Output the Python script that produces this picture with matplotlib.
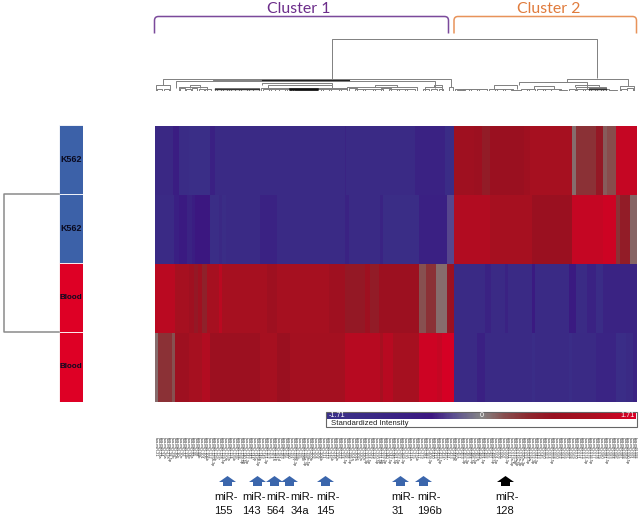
import matplotlib
matplotlib.use("Agg")
import matplotlib.pyplot as plt
import numpy as np
from matplotlib.collections import LineCollection
from matplotlib.colors import LinearSegmentedColormap, Normalize
from matplotlib.path import Path
from matplotlib.patches import PathPatch, Rectangle

W, H = 643, 517
VMIN, VMAX = -1.71, 1.71

sample_names = ["K562", "K562", "Blood", "Blood"]
sample_colors = ["#3c61a8", "#3c61a8", "#de0025", "#de0025"]
sample_font_sizes = [6.5, 6.5, 5.8, 5.8]
cluster_names = ["Cluster 1", "Cluster 2"]

# heat-map rows as (last column of the run, standardized intensity)
row_k562_a = [(18,-1.2),(24,-0.8),(34,-1.4),(55,-1.55),(60,-0.9),(190,-1.25),(191,-1.0),(260,-1.25),(290,-0.95),(299,-1.4),
              (319,1.0),(327,.9),(335,.65),(369,.85),(375,1.0),(417,1.15),(421,.12),(441,.45),(448,.7),(452,.2),(461,.28),(482,1.5)]
row_k562_b = [(19,-1.25),(24,-0.85),(32,-0.7),(37,-1.0),(40,-0.8),(55,-0.6),(64,-1.45),(67,-1.2),(71,-1.45),(105,-1.25),(122,-0.95),
              (190,-1.25),(194,-0.95),(225,-1.3),(228,-1.0),(264,-1.45),(292,-0.9),(299,-0.34),
              (335,1.3),(377,1.15),(417,.85),(448,1.5),(461,1.6),(465,.45),(475,.65),(482,.15)]
row_blood_a = [(20,1.4),(34,1.15),(39,1.0),(43,.7),(47,1.0),(52,.6),(64,1.15),(67,1.4),(112,1.15),(122,.95),(174,1.15),(190,1.0),
               (210,.7),(215,.95),(224,.65),(264,.9),(271,.25),(281,.45),(292,.12),(295,.7),(299,.9),
               (330,-1.3),(336,-0.95),(350,-1.3),(353,-0.95),(377,-1.3),(380,-0.7),(414,-1.3),(421,-0.7),(432,-1.35),(441,-0.95),(448,-1.4),(482,-1.0)]
row_blood_b = [(3,.12),(17,.45),(20,.25),(34,.95),(47,1.15),(55,1.3),(105,.9),(122,1.15),(135,.85),(190,1.1),(225,1.35),(228,1.15),
               (238,1.35),(264,1.15),(282,1.6),(287,1.5),(299,1.68),
               (322,-1.3),(330,-0.9),(377,-1.3),(380,-1.5),(414,-1.3),(417,-1.5),(441,-1.3),(461,-1.05),(471,-1.5),(478,-1.25),(482,-0.95)]
heat_rows = [row_k562_a, row_k562_b, row_blood_a, row_blood_b]

# upper dendrogram merges: left column, right column, height, left child height, right child height
upper_merges = [(177,442,52,11.5,12.5),(8,296,11.5,5.5,4),(21.5,280.5,9.5,2.5,3),(58,107,11,9.5,9.5),(107,194,10.5,9.5,9.5),
                (1,15,5.5,0,0),(107,177,8,6,6),(113,177,6,2.5,2.5),(192,262,3.5,0,0),(220,242,5.5,3.5,3.5),(35,45,5.5,3,3),
                (24,52,3.5,0,0),(60,104,3,0,0),(106,192,2.5,0,0),(135,162,2,0,0),(270,287,3.5,0,0),(279,287,5.5,3.5,3.5),
                (294,298,4,0,0),(300,332,1.5,0,0),(339,362,5.5,2,2),(364,432,8.5,5.5,2),(390,417,8.5,8.5,8.5),
                (412,473,12,8.5,4.5),(379,399,5,2,2),(420,444,6,3.5,3.5),(421,451,3.5,0,0),(434,451,2.5,0,0),(465,479,4.5,0,0)]
small_merges = [(2,7,2),(9,14,1.5),(25,30,2.5),(31,36,1.5),(37,42,3),(44,49,2),(50,56,1.5),(60,66,2.5),(62,72,1.5),(68,76,2),
                (74,84,1.5),(80,92,1.8),(86,98,1.2),(94,104,2),(108,116,1.5),(114,124,2),(120,132,1.5),(130,138,2),(136,146,1.5),
                (140,150,1),(144,156,1.5),(150,162,1),(156,168,1.8),(166,176,1.5),(174,186,2),(184,192,1.5),(194,202,2.5),
                (200,210,1.5),(208,220,2),(218,228,1.5),(226,236,2.5),(234,244,1.5),(242,252,2),(250,260,1.5),(268,274,2),
                (276,282,1.5),(284,288,2),(302,310,1),(308,316,1.5),(314,324,1.2),(322,332,1.8),(334,342,1.5),(340,350,2),
                (348,358,1.5),(356,366,1),(366,374,1.5),(372,380,2),(382,390,1.2),(388,396,1.8),(396,406,1.5),(404,412,1),
                (414,420,2),(422,430,1.5),(428,436,1.2),(434,442,1.5),(440,448,1.8),(446,454,1.5),(454,462,1),(466,472,2),(472,478,2.5)]

# lower-left dendrogram: the two sample pairs joined at one height
side_merge_rows = (1, 3)

# colour scale: stops of intensity and colour
scale_stops = [-1.71, -1.25, -0.8, -0.55, -0.3, 0.0, 0.25, 0.5, 0.8, 1.2, 1.71]
scale_colors = ["#3b3189", "#3a2a85", "#3a1e83", "#3c1680", "#5c5090", "#858585", "#885050", "#8c2a30", "#981020", "#a81020", "#d80025"]

# annotated miRNAs, with the column their arrow points at
callout_top = "miR-"
callout_names = ["155", "143", "564", "34a", "145", "31", "196b", "128"]
callout_arrow_cols = [73, 103, 120, 135, 171, 246, 269, 351]
callout_text_cols = [60, 88, 112, 136, 162, 237, 263, 341]
callout_colors = ["#3b66ac"] * 7 + ["#000000"]

# column labels (too small to read in the reference, names are estimates)
mirna_tokens = ("21 23a 24 26a 27a 28-5p 29b 30a 30c 30e 32 33b 34b 92a 95 98 99b 101 105 106b 122 125a-3p 125b 126* 128 129-5p 130b 133a 134 135b "
 "136* 138 139-5p 140-5p 142-3p 143 144* 146a 146b-5p 148a 149 151-3p 152 154 181a 181b 181d 183 185 187 190 191* 193a-3p 193b 195 196b "
 "199a-3p 199b-5p 200b 202 204 206 208b 211 213 215 216b 218 220a 222 224 296-5p 298 299-5p 301a 302a 302c 320a 320c 323-3p 324-5p 326 329 "
 "330-5p 331-5p 337-5p 339-3p 340 342-5p 346 361-5p 362-5p 365 369-3p 370 372 374a 375 376b 377 379 381 383 409-3p 410 412 422a 423-5p 424* "
 "425* 431 433 449a 450a 451 453 455-3p 483-3p 484 485-5p 486-5p 487b 489 491-5p 493 495 497 499-5p 501-5p 503 505 507 509-3p 511 513a-5p "
 "515-3p 516a-5p 518a-3p 520a-3p 522 524-5p 526a 532-3p 542-3p 543 545 550 552 554 556-5p 558 560 562 564 566 567 568 569 570 571 572 573 "
 "574-3p 575 576-5p 577 578 579 580 581 582-5p 583 584 585 586 587 588 589 590-5p 591 592 593").split()
mirna_labels = ["hsa-miR-" + t for t in mirna_tokens]


def expand(runs):
    cells, start = [], 0
    for end, value in runs:
        cells.extend([value] * (end - start))
        start = end
    return cells


def px_axes(left, top, right, bottom):
    return fig.add_axes([left / W, 1 - bottom / H, (right - left) / W, (bottom - top) / H])


def bracket(xl, xr, h, hl, hr):
    return [(xl, hl), (xl, h), (xr, h), (xr, hr)]


fig = plt.figure(figsize=(W / 100, H / 100), dpi=100, facecolor="white")
sans = "Liberation Sans"

# full-figure layer in pixels for the annotations
over = fig.add_axes([0, 0, 1, 1], zorder=5)
over.set_xlim(0, W)
over.set_ylim(H, 0)
over.axis("off")

# heat map
cmap = LinearSegmentedColormap.from_list(
    "expr", [((s - VMIN) / (VMAX - VMIN), c) for s, c in zip(scale_stops, scale_colors)])
norm = Normalize(VMIN, VMAX)
ax = px_axes(154.5, 126, 636.5, 402)
matrix = np.array([expand(r) for r in heat_rows])
im = ax.imshow(matrix, cmap=cmap, norm=norm, aspect="auto", interpolation="nearest")
ax.axis("off")

# upper dendrogram
dn = px_axes(154.5, 36, 636.5, 90.5)
dn.set_xlim(0, 482)
dn.set_ylim(0, 54.5)
dn.axis("off")
segs = [bracket(*m) for m in upper_merges] + [bracket(a, b, h, 0, 0) for a, b, h in small_merges]
dn.add_collection(LineCollection(segs, colors="#808080", linewidths=0.7))
dn.plot([107, 194], [10.5, 10.5], color="#222222", lw=0.8)
dn.plot([60, 104], [1.5, 1.5], color="#333333", lw=1.0)
dn.plot([135, 162], [1.5, 1.5], color="#111111", lw=1.8)
dn.plot([434, 451], [1.8, 1.8], color="#333333", lw=1.0)

# sample colour strip, labels and side dendrogram
strip = px_axes(59, 124.5, 82.5, 401.5)
strip.set_xlim(0, 1)
strip.set_ylim(4, 0)
strip.axis("off")
for i, (name, color, size) in enumerate(zip(sample_names, sample_colors, sample_font_sizes)):
    strip.add_patch(Rectangle((0, i), 1, 1, facecolor=color, edgecolor="white", lw=0.6))
    strip.text(0.5, i + 0.5, name, ha="center", va="center", fontsize=size,
               fontweight="bold", family=sans, color="#0a0a20")
side = px_axes(3.5, 124.5, 59, 401.5)
side.set_xlim(0, 1)
side.set_ylim(4, 0)
side.axis("off")
side.plot([1, 0, 0, 1], [side_merge_rows[0], side_merge_rows[0], side_merge_rows[1], side_merge_rows[1]],
          color="#8a8a8a", lw=1.1, clip_on=False)


# cluster titles and brackets
def round_bracket(xl, xr, top, bottom, color):
    r = 4
    verts = [(xl, bottom), (xl, top + r), (xl, top), (xl + r, top), (xr - r, top), (xr, top), (xr, top + r), (xr, bottom)]
    codes = [Path.MOVETO, Path.LINETO, Path.CURVE3, Path.CURVE3, Path.LINETO, Path.CURVE3, Path.CURVE3, Path.LINETO]
    over.add_patch(PathPatch(Path(verts, codes), fill=False, edgecolor=color, lw=1.1))


round_bracket(154.5, 448.5, 16.5, 33.5, "#7b4a9b")
round_bracket(454, 636.5, 16.5, 33.5, "#e8935a")
over.text(298.5, 9.2, cluster_names[0], ha="center", va="center", fontsize=11.4, family="Lato", color="#6c2d8a")
over.text(548.5, 9.2, cluster_names[1], ha="center", va="center", fontsize=11.4, family="Lato", color="#e07b3c")

# colour scale
over.add_patch(Rectangle((325.5, 412), 311, 15, facecolor="white", edgecolor="#666666", lw=0.8))
cax = px_axes(326.5, 413, 636, 418.5)
cax.set_zorder(6)
cb = fig.colorbar(im, cax=cax, orientation="horizontal")
cb.outline.set_visible(False)
cb.set_ticks([])
txt_kw = dict(fontsize=5.2, family=sans, color="white", va="center", zorder=7)
cax.text(VMIN + 0.02, 0.5, "-1.71", ha="left", transform=cax.get_xaxis_transform(), **txt_kw)
cax.text(0, 0.5, "0", ha="center", transform=cax.get_xaxis_transform(), **txt_kw)
cax.text(VMAX - 0.02, 0.5, "1.71", ha="right", transform=cax.get_xaxis_transform(), **txt_kw)
over.text(331, 423.8, "Standardized Intensity", ha="left", va="center", fontsize=5.6, family=sans, color="#222222")

# tiny column labels
labels_ax = px_axes(154.5, 400, 636.5, 480)
labels_ax.set_xlim(0, len(mirna_labels))
labels_ax.set_ylim(80, 0)
labels_ax.axis("off")
for i, lab in enumerate(mirna_labels):
    labels_ax.text(i + 0.5, 37, lab, rotation=270, ha="center", va="top", fontsize=2.7,
                   family=sans, color="#222222")

# arrows and callout names
call = px_axes(154.5, 470, 636.5, 517)
call.set_xlim(0, 482)
call.set_ylim(47, 0)
call.axis("off")
for col, tcol, name, color in zip(callout_arrow_cols, callout_text_cols, callout_names, callout_colors):
    call.arrow(col, 16, 0, -10, width=9, head_width=17, head_length=6, length_includes_head=True,
               facecolor=color, edgecolor="none")
    call.text(tcol, 27, callout_top, ha="left", va="center", fontsize=8, family=sans, color="#111111")
    call.text(tcol, 40.7, name, ha="left", va="center", fontsize=8, family=sans, color="#111111")

fig.savefig("out.png", dpi=100, facecolor="white")
